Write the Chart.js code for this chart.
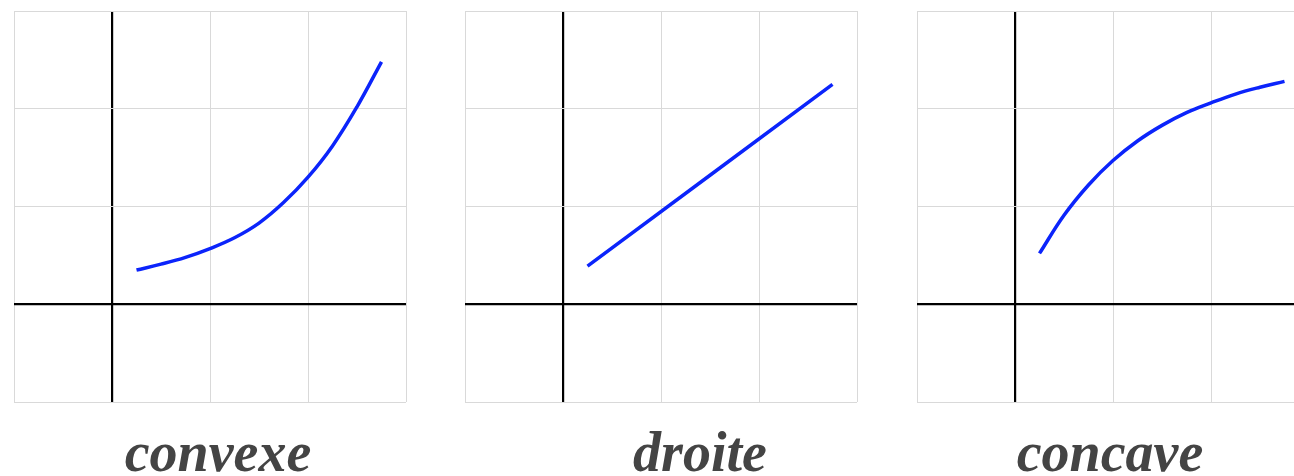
<!DOCTYPE html>
<html>
<head>
<meta charset="utf-8">
<script src="https://cdn.jsdelivr.net/npm/chart.js@4"></script>
<style>
  html, body { margin: 0; padding: 0; background: #fff; }
  body { width: 1294px; height: 476px; position: relative; overflow: hidden; }
  canvas { position: absolute; top: 9px; }
  .label {
    position: absolute; top: 417px; width: 300px; text-align: center;
    font-family: 'Liberation Serif', serif; font-weight: bold; font-style: italic;
    font-size: 56px; color: #444; line-height: 70px;
  }
</style>
</head>
<body>
<canvas id="chart-convexe" width="396" height="395" style="left:12px"></canvas>
<canvas id="chart-droite" width="396" height="395" style="left:463px"></canvas>
<canvas id="chart-concave" width="396" height="395" style="left:915px"></canvas>
<div class="label" style="left:68px">convexe</div>
<div class="label" style="left:550px">droite</div>
<div class="label" style="left:960px">concave</div>

<script>
// ─── DATA ────────────────────────────────────────────────────
const xConvexe = [0.25, 0.5, 0.75, 1.0, 1.25, 1.5, 1.75, 2.0, 2.25, 2.5, 2.75];
const yConvexe = [0.35, 0.41, 0.48, 0.57, 0.68, 0.83, 1.04, 1.30, 1.62, 2.02, 2.48];

const xDroite = [0.25, 2.75];
const yDroite = [0.39, 2.25];

const xConcave = [0.25, 0.5, 0.75, 1.0, 1.25, 1.5, 1.75, 2.0, 2.25, 2.5, 2.75];
const yConcave = [0.52, 0.91, 1.22, 1.47, 1.67, 1.83, 1.96, 2.06, 2.15, 2.22, 2.28];

const AXIS_MIN = -1;
const AXIS_MAX = 3;

const CURVE_COLOR = '#0b24fb';
const GRID_COLOR = '#d9d9d9';

// ─── SHARED SCALE ────────────────────────────────────────────
function gridScale() {
  return {
    type: 'linear',
    min: AXIS_MIN,
    max: AXIS_MAX,
    ticks: { display: false, stepSize: 1 },
    border: { display: false },
    grid: {
      drawTicks: false,
      color: c => c.tick && c.tick.value === 0 ? '#000' : GRID_COLOR,
      lineWidth: c => c.tick && c.tick.value === 0 ? 2.2 : 1,
    },
  };
}

// ─── ONE PANEL ───────────────────────────────────────────────
function initPanel(id, xs, ys) {
  const ctx = document.getElementById(id);
  if (!ctx) return;
  new Chart(ctx, {
    type: 'scatter',
    data: {
      datasets: [{
        data: xs.map((x, i) => ({ x, y: ys[i] })),
        showLine: true,
        borderColor: CURVE_COLOR,
        borderWidth: 3.5,
        pointRadius: 0,
        tension: 0.4,
      }]
    },
    options: {
      responsive: false,
      animation: false,
      devicePixelRatio: 1,
      layout: { padding: 2 },
      plugins: { legend: { display: false }, tooltip: { enabled: false } },
      scales: { x: gridScale(), y: gridScale() },
    }
  });
}

initPanel('chart-convexe', xConvexe, yConvexe);
initPanel('chart-droite', xDroite, yDroite);
initPanel('chart-concave', xConcave, yConcave);
</script>
</body>
</html>
